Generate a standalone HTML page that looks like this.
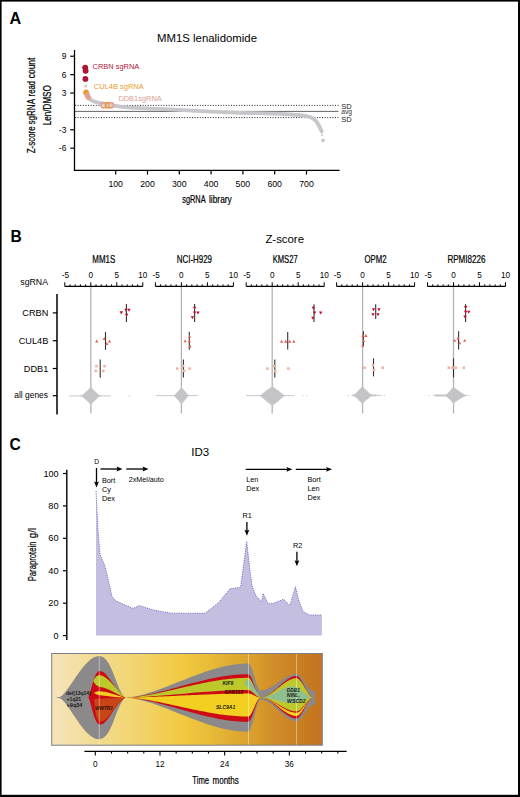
<!DOCTYPE html>
<html><head><meta charset="utf-8"><style>
html,body{margin:0;padding:0;background:#fff;}
svg{display:block;}
text{font-family:"Liberation Sans",sans-serif;}
</style></head><body>
<svg width="520" height="797" viewBox="0 0 520 797">
<rect x="0" y="0" width="520" height="797" fill="#fff"/>
<text x="9.60" y="23.70" font-size="16.2" text-anchor="start" fill="#000" font-weight="bold"  style="">A</text>
<text x="157.00" y="41.80" font-size="11" text-anchor="start" fill="#000" font-weight="normal" textLength="100.00" lengthAdjust="spacingAndGlyphs"  style="">MM1S lenalidomide</text>
<line x1="74.50" y1="50.00" x2="74.50" y2="170.60" stroke="#000" stroke-width="1.3" />
<line x1="73.85" y1="170.30" x2="339.60" y2="170.30" stroke="#000" stroke-width="1.3" />
<line x1="70.20" y1="56.23" x2="74.50" y2="56.23" stroke="#000" stroke-width="1.2" />
<text x="66.30" y="59.13" font-size="8.4" text-anchor="end" fill="#000" font-weight="normal"  style="">9</text>
<line x1="70.20" y1="74.62" x2="74.50" y2="74.62" stroke="#000" stroke-width="1.2" />
<text x="66.30" y="77.52" font-size="8.4" text-anchor="end" fill="#000" font-weight="normal"  style="">6</text>
<line x1="70.20" y1="93.01" x2="74.50" y2="93.01" stroke="#000" stroke-width="1.2" />
<text x="66.30" y="95.91" font-size="8.4" text-anchor="end" fill="#000" font-weight="normal"  style="">3</text>
<line x1="70.20" y1="129.79" x2="74.50" y2="129.79" stroke="#000" stroke-width="1.2" />
<text x="66.30" y="132.69" font-size="8.4" text-anchor="end" fill="#000" font-weight="normal"  style="">-3</text>
<line x1="70.20" y1="148.18" x2="74.50" y2="148.18" stroke="#000" stroke-width="1.2" />
<text x="66.30" y="151.08" font-size="8.4" text-anchor="end" fill="#000" font-weight="normal"  style="">-6</text>
<line x1="115.70" y1="170.30" x2="115.70" y2="174.60" stroke="#000" stroke-width="1.2" />
<text x="115.70" y="186.90" font-size="8.4" text-anchor="middle" fill="#000" font-weight="normal" textLength="14.60" lengthAdjust="spacingAndGlyphs"  style="">100</text>
<line x1="147.50" y1="170.30" x2="147.50" y2="174.60" stroke="#000" stroke-width="1.2" />
<text x="147.50" y="186.90" font-size="8.4" text-anchor="middle" fill="#000" font-weight="normal" textLength="14.60" lengthAdjust="spacingAndGlyphs"  style="">200</text>
<line x1="179.30" y1="170.30" x2="179.30" y2="174.60" stroke="#000" stroke-width="1.2" />
<text x="179.30" y="186.90" font-size="8.4" text-anchor="middle" fill="#000" font-weight="normal" textLength="14.60" lengthAdjust="spacingAndGlyphs"  style="">300</text>
<line x1="211.10" y1="170.30" x2="211.10" y2="174.60" stroke="#000" stroke-width="1.2" />
<text x="211.10" y="186.90" font-size="8.4" text-anchor="middle" fill="#000" font-weight="normal" textLength="14.60" lengthAdjust="spacingAndGlyphs"  style="">400</text>
<line x1="242.90" y1="170.30" x2="242.90" y2="174.60" stroke="#000" stroke-width="1.2" />
<text x="242.90" y="186.90" font-size="8.4" text-anchor="middle" fill="#000" font-weight="normal" textLength="14.60" lengthAdjust="spacingAndGlyphs"  style="">500</text>
<line x1="274.70" y1="170.30" x2="274.70" y2="174.60" stroke="#000" stroke-width="1.2" />
<text x="274.70" y="186.90" font-size="8.4" text-anchor="middle" fill="#000" font-weight="normal" textLength="14.60" lengthAdjust="spacingAndGlyphs"  style="">600</text>
<line x1="306.50" y1="170.30" x2="306.50" y2="174.60" stroke="#000" stroke-width="1.2" />
<text x="306.50" y="186.90" font-size="8.4" text-anchor="middle" fill="#000" font-weight="normal" textLength="14.60" lengthAdjust="spacingAndGlyphs"  style="">700</text>
<line x1="75.00" y1="105.40" x2="338.50" y2="105.40" stroke="#222" stroke-width="1" stroke-dasharray="1 1.6"/>
<line x1="75.00" y1="117.60" x2="338.50" y2="117.60" stroke="#222" stroke-width="1" stroke-dasharray="1 1.6"/>
<line x1="75.00" y1="111.40" x2="338.50" y2="111.40" stroke="#555" stroke-width="0.9" />
<path d="M86.0,93.5 L88.0,97.2 L91.0,100.0 L94.4,101.6 L99.2,102.8 L110.0,105.0 L120.0,106.7 L130.0,107.7 L150.0,108.6 L170.0,109.4 L200.0,111.2 L240.0,112.8 L280.0,113.8 L290.0,114.4 L300.0,115.2 L306.0,116.0 L311.0,117.3 L314.0,119.0 L317.0,122.3 L319.0,125.8 L320.8,129.3 L321.7,131.4" fill="none" stroke="#c6c6cb" stroke-width="3.8" stroke-linecap="round" stroke-linejoin="round"/>
<circle cx="323" cy="140.3" r="1.9" fill="#c9c9ce"/>
<circle cx="322" cy="135" r="1.2" fill="#d4d4d8"/>
<circle cx="85.2" cy="67.6" r="2.95" fill="#ae1538"/>
<circle cx="85.6" cy="70.8" r="2.95" fill="#ae1538"/>
<circle cx="85.4" cy="78.9" r="2.95" fill="#ae1538"/>
<circle cx="85.7" cy="86" r="1.6" fill="#cdcdd1"/>
<circle cx="86.1" cy="92.4" r="2.9" fill="#e89c2c"/>
<circle cx="87.4" cy="95.4" r="2.8" fill="#e2a092"/>
<circle cx="88.5" cy="97.6" r="2.6" fill="#e2a092"/>
<circle cx="103.7" cy="105.2" r="2.6" fill="#fff" fill-opacity="0.35" stroke="#e2a092" stroke-width="1.7"/>
<circle cx="108.0" cy="105.2" r="2.6" fill="#fff" fill-opacity="0.35" stroke="#e89c2c" stroke-width="1.7"/>
<circle cx="110.9" cy="105.2" r="2.6" fill="#fff" fill-opacity="0.35" stroke="#e2a092" stroke-width="1.7"/>
<text x="92.50" y="69.20" font-size="7.4" text-anchor="start" fill="#ae1538" font-weight="normal" textLength="46.80" lengthAdjust="spacingAndGlyphs"  style="">CRBN sgRNA</text>
<text x="93.80" y="89.20" font-size="7.4" text-anchor="start" fill="#e89a2a" font-weight="normal" textLength="49.90" lengthAdjust="spacingAndGlyphs"  style="">CUL4B sgRNA</text>
<text x="118.40" y="101.20" font-size="7.4" text-anchor="start" fill="#dc9c94" font-weight="normal" textLength="43.30" lengthAdjust="spacingAndGlyphs"  style="">DDB1sgRNA</text>
<text x="341.30" y="108.70" font-size="8.0" text-anchor="start" fill="#1a1a1a" font-weight="normal" textLength="10.40" lengthAdjust="spacingAndGlyphs"  style="">SD</text>
<text x="341.30" y="113.60" font-size="6.8" text-anchor="start" fill="#333" font-weight="normal" textLength="10.80" lengthAdjust="spacingAndGlyphs"  style="">avg</text>
<text x="341.30" y="121.70" font-size="8.0" text-anchor="start" fill="#1a1a1a" font-weight="normal" textLength="10.40" lengthAdjust="spacingAndGlyphs"  style="">SD</text>
<text x="182.20" y="203.20" font-size="10.3" text-anchor="start" fill="#000" font-weight="normal" textLength="23.40" lengthAdjust="spacingAndGlyphs"  stroke="#000" stroke-width="0.22" style="">sgRNA</text>
<text x="209.00" y="203.20" font-size="10.3" text-anchor="start" fill="#000" font-weight="normal" textLength="22.80" lengthAdjust="spacingAndGlyphs"  stroke="#000" stroke-width="0.22" style="">library</text>
<text transform="translate(35.30,153.30) rotate(-90)" x="0" y="0" font-size="11.4" fill="#000" font-weight="normal" textLength="27.00" lengthAdjust="spacingAndGlyphs" stroke="#000" stroke-width="0.22">Z-score</text>
<text transform="translate(35.30,124.50) rotate(-90)" x="0" y="0" font-size="11.4" fill="#000" font-weight="normal" textLength="25.60" lengthAdjust="spacingAndGlyphs" stroke="#000" stroke-width="0.22">sgRNA</text>
<text transform="translate(35.30,96.40) rotate(-90)" x="0" y="0" font-size="11.4" fill="#000" font-weight="normal" textLength="15.40" lengthAdjust="spacingAndGlyphs" stroke="#000" stroke-width="0.22">read</text>
<text transform="translate(35.30,78.20) rotate(-90)" x="0" y="0" font-size="11.4" fill="#000" font-weight="normal" textLength="20.60" lengthAdjust="spacingAndGlyphs" stroke="#000" stroke-width="0.22">count</text>
<text transform="translate(50.60,105.20) rotate(-90)" x="0" y="0" font-size="11.4" text-anchor="middle" fill="#000" font-weight="normal" textLength="40.00" lengthAdjust="spacingAndGlyphs" stroke="#000" stroke-width="0.22">Len/DMSO</text>
<text x="10.40" y="241.60" font-size="15.6" text-anchor="start" fill="#000" font-weight="bold"  style="">B</text>
<text x="265.40" y="242.80" font-size="11.6" text-anchor="start" fill="#000" font-weight="normal" textLength="38.60" lengthAdjust="spacingAndGlyphs"  style="">Z-score</text>
<text x="20.30" y="284.70" font-size="8.8" text-anchor="start" fill="#000" font-weight="normal" textLength="27.70" lengthAdjust="spacingAndGlyphs"  style="">sgRNA</text>
<line x1="57.00" y1="294.00" x2="57.00" y2="414.60" stroke="#000" stroke-width="1.5" />
<line x1="52.80" y1="312.90" x2="57.00" y2="312.90" stroke="#000" stroke-width="1.2" />
<text x="48.30" y="316.20" font-size="9.2" text-anchor="end" fill="#000" font-weight="normal"  style="">CRBN</text>
<line x1="52.80" y1="340.70" x2="57.00" y2="340.70" stroke="#000" stroke-width="1.2" />
<text x="48.30" y="344.00" font-size="9.2" text-anchor="end" fill="#000" font-weight="normal"  style="">CUL4B</text>
<line x1="52.80" y1="368.50" x2="57.00" y2="368.50" stroke="#000" stroke-width="1.2" />
<text x="48.30" y="371.80" font-size="9.2" text-anchor="end" fill="#000" font-weight="normal"  style="">DDB1</text>
<line x1="52.80" y1="395.70" x2="57.00" y2="395.70" stroke="#000" stroke-width="1.2" />
<text x="48.00" y="398.30" font-size="8.5" text-anchor="end" fill="#000" font-weight="normal" textLength="33.70" lengthAdjust="spacingAndGlyphs"  style="">all genes</text>
<line x1="64.80" y1="286.40" x2="142.80" y2="286.40" stroke="#000" stroke-width="1.3" />
<line x1="64.80" y1="282.30" x2="64.80" y2="286.40" stroke="#000" stroke-width="1.0" />
<line x1="70.00" y1="284.40" x2="70.00" y2="286.40" stroke="#000" stroke-width="1.0" />
<line x1="75.20" y1="284.40" x2="75.20" y2="286.40" stroke="#000" stroke-width="1.0" />
<line x1="80.40" y1="284.40" x2="80.40" y2="286.40" stroke="#000" stroke-width="1.0" />
<line x1="85.60" y1="284.40" x2="85.60" y2="286.40" stroke="#000" stroke-width="1.0" />
<line x1="90.80" y1="282.30" x2="90.80" y2="286.40" stroke="#000" stroke-width="1.0" />
<line x1="96.00" y1="284.40" x2="96.00" y2="286.40" stroke="#000" stroke-width="1.0" />
<line x1="101.20" y1="284.40" x2="101.20" y2="286.40" stroke="#000" stroke-width="1.0" />
<line x1="106.40" y1="284.40" x2="106.40" y2="286.40" stroke="#000" stroke-width="1.0" />
<line x1="111.60" y1="284.40" x2="111.60" y2="286.40" stroke="#000" stroke-width="1.0" />
<line x1="116.80" y1="282.30" x2="116.80" y2="286.40" stroke="#000" stroke-width="1.0" />
<line x1="122.00" y1="284.40" x2="122.00" y2="286.40" stroke="#000" stroke-width="1.0" />
<line x1="127.20" y1="284.40" x2="127.20" y2="286.40" stroke="#000" stroke-width="1.0" />
<line x1="132.40" y1="284.40" x2="132.40" y2="286.40" stroke="#000" stroke-width="1.0" />
<line x1="137.60" y1="284.40" x2="137.60" y2="286.40" stroke="#000" stroke-width="1.0" />
<line x1="142.80" y1="282.30" x2="142.80" y2="286.40" stroke="#000" stroke-width="1.0" />
<text x="65.50" y="278.20" font-size="8.2" text-anchor="middle" fill="#000" font-weight="normal"  style="">-5</text>
<text x="90.80" y="278.20" font-size="8.2" text-anchor="middle" fill="#000" font-weight="normal"  style="">0</text>
<text x="116.80" y="278.20" font-size="8.2" text-anchor="middle" fill="#000" font-weight="normal"  style="">5</text>
<text x="142.80" y="278.20" font-size="8.2" text-anchor="middle" fill="#000" font-weight="normal"  style="">10</text>
<text x="103.80" y="263.00" font-size="10.6" text-anchor="middle" fill="#000" font-weight="normal" textLength="23.00" lengthAdjust="spacingAndGlyphs"  stroke="#000" stroke-width="0.22" style="">MM1S</text>
<line x1="90.80" y1="287.00" x2="90.80" y2="413.50" stroke="#b4b4b8" stroke-width="1.3" />
<line x1="155.40" y1="286.40" x2="233.40" y2="286.40" stroke="#000" stroke-width="1.3" />
<line x1="155.40" y1="282.30" x2="155.40" y2="286.40" stroke="#000" stroke-width="1.0" />
<line x1="160.60" y1="284.40" x2="160.60" y2="286.40" stroke="#000" stroke-width="1.0" />
<line x1="165.80" y1="284.40" x2="165.80" y2="286.40" stroke="#000" stroke-width="1.0" />
<line x1="171.00" y1="284.40" x2="171.00" y2="286.40" stroke="#000" stroke-width="1.0" />
<line x1="176.20" y1="284.40" x2="176.20" y2="286.40" stroke="#000" stroke-width="1.0" />
<line x1="181.40" y1="282.30" x2="181.40" y2="286.40" stroke="#000" stroke-width="1.0" />
<line x1="186.60" y1="284.40" x2="186.60" y2="286.40" stroke="#000" stroke-width="1.0" />
<line x1="191.80" y1="284.40" x2="191.80" y2="286.40" stroke="#000" stroke-width="1.0" />
<line x1="197.00" y1="284.40" x2="197.00" y2="286.40" stroke="#000" stroke-width="1.0" />
<line x1="202.20" y1="284.40" x2="202.20" y2="286.40" stroke="#000" stroke-width="1.0" />
<line x1="207.40" y1="282.30" x2="207.40" y2="286.40" stroke="#000" stroke-width="1.0" />
<line x1="212.60" y1="284.40" x2="212.60" y2="286.40" stroke="#000" stroke-width="1.0" />
<line x1="217.80" y1="284.40" x2="217.80" y2="286.40" stroke="#000" stroke-width="1.0" />
<line x1="223.00" y1="284.40" x2="223.00" y2="286.40" stroke="#000" stroke-width="1.0" />
<line x1="228.20" y1="284.40" x2="228.20" y2="286.40" stroke="#000" stroke-width="1.0" />
<line x1="233.40" y1="282.30" x2="233.40" y2="286.40" stroke="#000" stroke-width="1.0" />
<text x="156.10" y="278.20" font-size="8.2" text-anchor="middle" fill="#000" font-weight="normal"  style="">-5</text>
<text x="181.40" y="278.20" font-size="8.2" text-anchor="middle" fill="#000" font-weight="normal"  style="">0</text>
<text x="207.40" y="278.20" font-size="8.2" text-anchor="middle" fill="#000" font-weight="normal"  style="">5</text>
<text x="233.40" y="278.20" font-size="8.2" text-anchor="middle" fill="#000" font-weight="normal"  style="">10</text>
<text x="194.40" y="263.00" font-size="10.6" text-anchor="middle" fill="#000" font-weight="normal" textLength="35.20" lengthAdjust="spacingAndGlyphs"  stroke="#000" stroke-width="0.22" style="">NCI-H929</text>
<line x1="181.40" y1="287.00" x2="181.40" y2="413.50" stroke="#b4b4b8" stroke-width="1.3" />
<line x1="246.20" y1="286.40" x2="324.20" y2="286.40" stroke="#000" stroke-width="1.3" />
<line x1="246.20" y1="282.30" x2="246.20" y2="286.40" stroke="#000" stroke-width="1.0" />
<line x1="251.40" y1="284.40" x2="251.40" y2="286.40" stroke="#000" stroke-width="1.0" />
<line x1="256.60" y1="284.40" x2="256.60" y2="286.40" stroke="#000" stroke-width="1.0" />
<line x1="261.80" y1="284.40" x2="261.80" y2="286.40" stroke="#000" stroke-width="1.0" />
<line x1="267.00" y1="284.40" x2="267.00" y2="286.40" stroke="#000" stroke-width="1.0" />
<line x1="272.20" y1="282.30" x2="272.20" y2="286.40" stroke="#000" stroke-width="1.0" />
<line x1="277.40" y1="284.40" x2="277.40" y2="286.40" stroke="#000" stroke-width="1.0" />
<line x1="282.60" y1="284.40" x2="282.60" y2="286.40" stroke="#000" stroke-width="1.0" />
<line x1="287.80" y1="284.40" x2="287.80" y2="286.40" stroke="#000" stroke-width="1.0" />
<line x1="293.00" y1="284.40" x2="293.00" y2="286.40" stroke="#000" stroke-width="1.0" />
<line x1="298.20" y1="282.30" x2="298.20" y2="286.40" stroke="#000" stroke-width="1.0" />
<line x1="303.40" y1="284.40" x2="303.40" y2="286.40" stroke="#000" stroke-width="1.0" />
<line x1="308.60" y1="284.40" x2="308.60" y2="286.40" stroke="#000" stroke-width="1.0" />
<line x1="313.80" y1="284.40" x2="313.80" y2="286.40" stroke="#000" stroke-width="1.0" />
<line x1="319.00" y1="284.40" x2="319.00" y2="286.40" stroke="#000" stroke-width="1.0" />
<line x1="324.20" y1="282.30" x2="324.20" y2="286.40" stroke="#000" stroke-width="1.0" />
<text x="246.90" y="278.20" font-size="8.2" text-anchor="middle" fill="#000" font-weight="normal"  style="">-5</text>
<text x="272.20" y="278.20" font-size="8.2" text-anchor="middle" fill="#000" font-weight="normal"  style="">0</text>
<text x="298.20" y="278.20" font-size="8.2" text-anchor="middle" fill="#000" font-weight="normal"  style="">5</text>
<text x="324.20" y="278.20" font-size="8.2" text-anchor="middle" fill="#000" font-weight="normal"  style="">10</text>
<text x="285.20" y="263.00" font-size="10.6" text-anchor="middle" fill="#000" font-weight="normal" textLength="25.10" lengthAdjust="spacingAndGlyphs"  stroke="#000" stroke-width="0.22" style="">KMS27</text>
<line x1="272.20" y1="287.00" x2="272.20" y2="413.50" stroke="#b4b4b8" stroke-width="1.3" />
<line x1="336.60" y1="286.40" x2="414.60" y2="286.40" stroke="#000" stroke-width="1.3" />
<line x1="336.60" y1="282.30" x2="336.60" y2="286.40" stroke="#000" stroke-width="1.0" />
<line x1="341.80" y1="284.40" x2="341.80" y2="286.40" stroke="#000" stroke-width="1.0" />
<line x1="347.00" y1="284.40" x2="347.00" y2="286.40" stroke="#000" stroke-width="1.0" />
<line x1="352.20" y1="284.40" x2="352.20" y2="286.40" stroke="#000" stroke-width="1.0" />
<line x1="357.40" y1="284.40" x2="357.40" y2="286.40" stroke="#000" stroke-width="1.0" />
<line x1="362.60" y1="282.30" x2="362.60" y2="286.40" stroke="#000" stroke-width="1.0" />
<line x1="367.80" y1="284.40" x2="367.80" y2="286.40" stroke="#000" stroke-width="1.0" />
<line x1="373.00" y1="284.40" x2="373.00" y2="286.40" stroke="#000" stroke-width="1.0" />
<line x1="378.20" y1="284.40" x2="378.20" y2="286.40" stroke="#000" stroke-width="1.0" />
<line x1="383.40" y1="284.40" x2="383.40" y2="286.40" stroke="#000" stroke-width="1.0" />
<line x1="388.60" y1="282.30" x2="388.60" y2="286.40" stroke="#000" stroke-width="1.0" />
<line x1="393.80" y1="284.40" x2="393.80" y2="286.40" stroke="#000" stroke-width="1.0" />
<line x1="399.00" y1="284.40" x2="399.00" y2="286.40" stroke="#000" stroke-width="1.0" />
<line x1="404.20" y1="284.40" x2="404.20" y2="286.40" stroke="#000" stroke-width="1.0" />
<line x1="409.40" y1="284.40" x2="409.40" y2="286.40" stroke="#000" stroke-width="1.0" />
<line x1="414.60" y1="282.30" x2="414.60" y2="286.40" stroke="#000" stroke-width="1.0" />
<text x="337.30" y="278.20" font-size="8.2" text-anchor="middle" fill="#000" font-weight="normal"  style="">-5</text>
<text x="362.60" y="278.20" font-size="8.2" text-anchor="middle" fill="#000" font-weight="normal"  style="">0</text>
<text x="388.60" y="278.20" font-size="8.2" text-anchor="middle" fill="#000" font-weight="normal"  style="">5</text>
<text x="414.60" y="278.20" font-size="8.2" text-anchor="middle" fill="#000" font-weight="normal"  style="">10</text>
<text x="375.60" y="263.00" font-size="10.6" text-anchor="middle" fill="#000" font-weight="normal" textLength="22.10" lengthAdjust="spacingAndGlyphs"  stroke="#000" stroke-width="0.22" style="">OPM2</text>
<line x1="362.60" y1="287.00" x2="362.60" y2="413.50" stroke="#b4b4b8" stroke-width="1.3" />
<line x1="427.50" y1="286.40" x2="505.50" y2="286.40" stroke="#000" stroke-width="1.3" />
<line x1="427.50" y1="282.30" x2="427.50" y2="286.40" stroke="#000" stroke-width="1.0" />
<line x1="432.70" y1="284.40" x2="432.70" y2="286.40" stroke="#000" stroke-width="1.0" />
<line x1="437.90" y1="284.40" x2="437.90" y2="286.40" stroke="#000" stroke-width="1.0" />
<line x1="443.10" y1="284.40" x2="443.10" y2="286.40" stroke="#000" stroke-width="1.0" />
<line x1="448.30" y1="284.40" x2="448.30" y2="286.40" stroke="#000" stroke-width="1.0" />
<line x1="453.50" y1="282.30" x2="453.50" y2="286.40" stroke="#000" stroke-width="1.0" />
<line x1="458.70" y1="284.40" x2="458.70" y2="286.40" stroke="#000" stroke-width="1.0" />
<line x1="463.90" y1="284.40" x2="463.90" y2="286.40" stroke="#000" stroke-width="1.0" />
<line x1="469.10" y1="284.40" x2="469.10" y2="286.40" stroke="#000" stroke-width="1.0" />
<line x1="474.30" y1="284.40" x2="474.30" y2="286.40" stroke="#000" stroke-width="1.0" />
<line x1="479.50" y1="282.30" x2="479.50" y2="286.40" stroke="#000" stroke-width="1.0" />
<line x1="484.70" y1="284.40" x2="484.70" y2="286.40" stroke="#000" stroke-width="1.0" />
<line x1="489.90" y1="284.40" x2="489.90" y2="286.40" stroke="#000" stroke-width="1.0" />
<line x1="495.10" y1="284.40" x2="495.10" y2="286.40" stroke="#000" stroke-width="1.0" />
<line x1="500.30" y1="284.40" x2="500.30" y2="286.40" stroke="#000" stroke-width="1.0" />
<line x1="505.50" y1="282.30" x2="505.50" y2="286.40" stroke="#000" stroke-width="1.0" />
<text x="428.20" y="278.20" font-size="8.2" text-anchor="middle" fill="#000" font-weight="normal"  style="">-5</text>
<text x="453.50" y="278.20" font-size="8.2" text-anchor="middle" fill="#000" font-weight="normal"  style="">0</text>
<text x="479.50" y="278.20" font-size="8.2" text-anchor="middle" fill="#000" font-weight="normal"  style="">5</text>
<text x="505.50" y="278.20" font-size="8.2" text-anchor="middle" fill="#000" font-weight="normal"  style="">10</text>
<text x="466.50" y="263.00" font-size="10.6" text-anchor="middle" fill="#000" font-weight="normal" textLength="38.20" lengthAdjust="spacingAndGlyphs"  stroke="#000" stroke-width="0.22" style="">RPMI8226</text>
<line x1="453.50" y1="287.00" x2="453.50" y2="413.50" stroke="#b4b4b8" stroke-width="1.3" />
<line x1="126.40" y1="304.00" x2="126.40" y2="322.00" stroke="#333" stroke-width="1.1" />
<path d="M119.60,311.34 L123.00,311.34 L121.30,314.40 Z" fill="#c0102e"/>
<path d="M124.30,308.74 L127.70,308.74 L126.00,311.80 Z" fill="#c0102e"/>
<path d="M127.30,308.74 L130.70,308.74 L129.00,311.80 Z" fill="#c0102e"/>
<path d="M125.00,313.64 L128.40,313.64 L126.70,316.70 Z" fill="#c0102e"/>
<line x1="105.50" y1="331.90" x2="105.50" y2="349.80" stroke="#333" stroke-width="1.1" />
<path d="M95.10,342.48 L98.30,342.48 L96.70,339.60 Z" fill="#e06050"/>
<path d="M102.60,339.98 L105.80,339.98 L104.20,337.10 Z" fill="#e06050"/>
<path d="M107.90,342.48 L111.10,342.48 L109.50,339.60 Z" fill="#e06050"/>
<path d="M105.20,344.98 L108.40,344.98 L106.80,342.10 Z" fill="#e06050"/>
<line x1="100.20" y1="359.60" x2="100.20" y2="377.70" stroke="#333" stroke-width="1.1" />
<rect x="95.20" y="364.90" width="2.60" height="2.60" fill="#f2b4a2"/>
<rect x="103.20" y="364.90" width="2.60" height="2.60" fill="#f2b4a2"/>
<rect x="94.50" y="369.60" width="2.60" height="2.60" fill="#f2b4a2"/>
<rect x="102.00" y="369.60" width="2.60" height="2.60" fill="#f2b4a2"/>
<line x1="194.60" y1="304.00" x2="194.60" y2="322.10" stroke="#333" stroke-width="1.1" />
<path d="M192.90,306.64 L196.30,306.64 L194.60,309.70 Z" fill="#c0102e"/>
<path d="M192.90,311.44 L196.30,311.44 L194.60,314.50 Z" fill="#c0102e"/>
<path d="M196.30,311.44 L199.70,311.44 L198.00,314.50 Z" fill="#c0102e"/>
<path d="M190.70,316.24 L194.10,316.24 L192.40,319.30 Z" fill="#c0102e"/>
<line x1="189.30" y1="331.70" x2="189.30" y2="349.70" stroke="#333" stroke-width="1.1" />
<path d="M183.50,342.28 L186.70,342.28 L185.10,339.40 Z" fill="#e06050"/>
<path d="M188.00,337.78 L191.20,337.78 L189.60,334.90 Z" fill="#e06050"/>
<path d="M187.70,342.28 L190.90,342.28 L189.30,339.40 Z" fill="#e06050"/>
<path d="M188.40,347.38 L191.60,347.38 L190.00,344.50 Z" fill="#e06050"/>
<line x1="183.40" y1="359.60" x2="183.40" y2="377.60" stroke="#333" stroke-width="1.1" />
<rect x="175.90" y="367.30" width="2.60" height="2.60" fill="#f2b4a2"/>
<rect x="188.30" y="367.30" width="2.60" height="2.60" fill="#f2b4a2"/>
<rect x="181.80" y="364.60" width="2.60" height="2.60" fill="#f2b4a2"/>
<rect x="182.90" y="369.50" width="2.60" height="2.60" fill="#f2b4a2"/>
<line x1="314.00" y1="304.20" x2="314.00" y2="321.90" stroke="#333" stroke-width="1.1" />
<path d="M311.60,306.64 L315.00,306.64 L313.30,309.70 Z" fill="#c0102e"/>
<path d="M312.90,311.54 L316.30,311.54 L314.60,314.60 Z" fill="#c0102e"/>
<path d="M319.00,311.54 L322.40,311.54 L320.70,314.60 Z" fill="#c0102e"/>
<path d="M311.20,316.74 L314.60,316.74 L312.90,319.80 Z" fill="#c0102e"/>
<line x1="287.70" y1="332.00" x2="287.70" y2="349.50" stroke="#333" stroke-width="1.1" />
<path d="M280.00,342.68 L283.20,342.68 L281.60,339.80 Z" fill="#e06050"/>
<path d="M284.10,342.68 L287.30,342.68 L285.70,339.80 Z" fill="#e06050"/>
<path d="M288.10,342.68 L291.30,342.68 L289.70,339.80 Z" fill="#e06050"/>
<path d="M292.20,342.68 L295.40,342.68 L293.80,339.80 Z" fill="#e06050"/>
<line x1="274.80" y1="359.60" x2="274.80" y2="377.40" stroke="#333" stroke-width="1.1" />
<rect x="266.10" y="367.30" width="2.60" height="2.60" fill="#f2b4a2"/>
<rect x="287.10" y="367.30" width="2.60" height="2.60" fill="#f2b4a2"/>
<rect x="272.90" y="364.70" width="2.60" height="2.60" fill="#f2b4a2"/>
<rect x="273.90" y="369.70" width="2.60" height="2.60" fill="#f2b4a2"/>
<line x1="375.70" y1="304.20" x2="375.70" y2="319.00" stroke="#333" stroke-width="1.1" />
<path d="M371.80,308.14 L375.20,308.14 L373.50,311.20 Z" fill="#c0102e"/>
<path d="M377.20,308.14 L380.60,308.14 L378.90,311.20 Z" fill="#c0102e"/>
<path d="M371.30,313.14 L374.70,313.14 L373.00,316.20 Z" fill="#c0102e"/>
<path d="M376.30,313.14 L379.70,313.14 L378.00,316.20 Z" fill="#c0102e"/>
<line x1="363.40" y1="331.30" x2="363.40" y2="346.10" stroke="#333" stroke-width="1.1" />
<path d="M361.40,336.88 L364.60,336.88 L363.00,334.00 Z" fill="#e06050"/>
<path d="M364.30,336.88 L367.50,336.88 L365.90,334.00 Z" fill="#e06050"/>
<path d="M362.00,342.08 L365.20,342.08 L363.60,339.20 Z" fill="#e06050"/>
<path d="M361.20,346.78 L364.40,346.78 L362.80,343.90 Z" fill="#e06050"/>
<line x1="373.50" y1="358.30" x2="373.50" y2="376.40" stroke="#333" stroke-width="1.1" />
<rect x="363.20" y="366.40" width="2.60" height="2.60" fill="#f2b4a2"/>
<rect x="381.40" y="366.40" width="2.60" height="2.60" fill="#f2b4a2"/>
<rect x="371.60" y="364.00" width="2.60" height="2.60" fill="#f2b4a2"/>
<rect x="372.70" y="368.80" width="2.60" height="2.60" fill="#f2b4a2"/>
<line x1="465.60" y1="304.20" x2="465.60" y2="321.90" stroke="#333" stroke-width="1.1" />
<path d="M463.90,306.04 L467.30,306.04 L465.60,309.10 Z" fill="#c0102e"/>
<path d="M463.90,310.74 L467.30,310.74 L465.60,313.80 Z" fill="#c0102e"/>
<path d="M467.00,310.74 L470.40,310.74 L468.70,313.80 Z" fill="#c0102e"/>
<path d="M463.30,315.54 L466.70,315.54 L465.00,318.60 Z" fill="#c0102e"/>
<line x1="458.60" y1="331.30" x2="458.60" y2="349.50" stroke="#333" stroke-width="1.1" />
<path d="M453.00,341.78 L456.20,341.78 L454.60,338.90 Z" fill="#e06050"/>
<path d="M456.40,339.38 L459.60,339.38 L458.00,336.50 Z" fill="#e06050"/>
<path d="M458.10,344.28 L461.30,344.28 L459.70,341.40 Z" fill="#e06050"/>
<path d="M463.10,341.78 L466.30,341.78 L464.70,338.90 Z" fill="#e06050"/>
<line x1="453.50" y1="358.30" x2="453.50" y2="377.40" stroke="#333" stroke-width="1.1" />
<rect x="447.50" y="366.40" width="2.60" height="2.60" fill="#f2b4a2"/>
<rect x="451.30" y="366.40" width="2.60" height="2.60" fill="#f2b4a2"/>
<rect x="454.40" y="366.40" width="2.60" height="2.60" fill="#f2b4a2"/>
<rect x="462.50" y="366.40" width="2.60" height="2.60" fill="#f2b4a2"/>
<line x1="69.30" y1="395.90" x2="110.80" y2="395.90" stroke="#c9c9ce" stroke-width="1.0" />
<path d="M101.25,395.90 L99.90,395.63 L99.09,395.20 L98.60,394.77 L98.11,394.34 L97.62,393.91 L97.14,393.47 L96.67,393.04 L96.20,392.61 L95.73,392.18 L95.27,391.75 L94.82,391.32 L94.37,390.88 L93.93,390.45 L93.50,390.02 L93.08,389.59 L92.66,389.16 L92.27,388.73 L91.88,388.29 L91.52,387.86 L91.18,387.43 L90.90,387.00 L90.90,387.00 L90.61,387.43 L90.25,387.86 L89.86,388.29 L89.46,388.73 L89.04,389.16 L88.60,389.59 L88.16,390.02 L87.70,390.45 L87.24,390.88 L86.77,391.32 L86.29,391.75 L85.80,392.18 L85.31,392.61 L84.81,393.04 L84.31,393.47 L83.80,393.91 L83.29,394.34 L82.77,394.77 L82.25,395.20 L81.40,395.63 L79.98,395.90 L79.98,395.90 L81.40,396.17 L82.25,396.60 L82.77,397.03 L83.29,397.46 L83.80,397.89 L84.31,398.33 L84.81,398.76 L85.31,399.19 L85.80,399.62 L86.29,400.05 L86.77,400.48 L87.24,400.92 L87.70,401.35 L88.16,401.78 L88.60,402.21 L89.04,402.64 L89.46,403.07 L89.86,403.51 L90.25,403.94 L90.61,404.37 L90.90,404.80 L90.90,404.80 L91.18,404.37 L91.52,403.94 L91.88,403.51 L92.27,403.07 L92.66,402.64 L93.08,402.21 L93.50,401.78 L93.93,401.35 L94.37,400.92 L94.82,400.48 L95.27,400.05 L95.73,399.62 L96.20,399.19 L96.67,398.76 L97.14,398.33 L97.62,397.89 L98.11,397.46 L98.60,397.03 L99.09,396.60 L99.90,396.17 L101.25,395.90 Z" fill="#c3c3c8" stroke="#c3c3c8" stroke-width="0.4" stroke-linejoin="round"/>
<circle cx="129" cy="395.9" r="0.6" fill="#c3c3c8"/>
<line x1="156.00" y1="395.60" x2="197.80" y2="395.60" stroke="#c9c9ce" stroke-width="1.0" />
<path d="M189.65,395.60 L188.60,395.35 L188.02,394.95 L187.67,394.55 L187.32,394.14 L186.96,393.74 L186.61,393.34 L186.26,392.94 L185.91,392.53 L185.57,392.13 L185.22,391.73 L184.87,391.33 L184.53,390.92 L184.19,390.52 L183.85,390.12 L183.52,389.72 L183.18,389.31 L182.85,388.91 L182.52,388.51 L182.20,388.11 L181.89,387.70 L181.60,387.30 L181.60,387.30 L181.29,387.70 L180.95,388.11 L180.61,388.51 L180.26,388.91 L179.91,389.31 L179.55,389.72 L179.19,390.12 L178.82,390.52 L178.46,390.92 L178.09,391.33 L177.72,391.73 L177.35,392.13 L176.98,392.53 L176.61,392.94 L176.23,393.34 L175.85,393.74 L175.48,394.14 L175.10,394.55 L174.72,394.95 L174.10,395.35 L172.97,395.60 L172.97,395.60 L174.10,395.86 L174.72,396.28 L175.10,396.69 L175.48,397.11 L175.85,397.53 L176.23,397.94 L176.61,398.36 L176.98,398.78 L177.35,399.19 L177.72,399.61 L178.09,400.03 L178.46,400.45 L178.82,400.86 L179.19,401.28 L179.55,401.70 L179.91,402.11 L180.26,402.53 L180.61,402.95 L180.95,403.37 L181.29,403.78 L181.60,404.20 L181.60,404.20 L181.89,403.78 L182.20,403.37 L182.52,402.95 L182.85,402.53 L183.18,402.11 L183.52,401.70 L183.85,401.28 L184.19,400.86 L184.53,400.45 L184.87,400.03 L185.22,399.61 L185.57,399.19 L185.91,398.78 L186.26,398.36 L186.61,397.94 L186.96,397.53 L187.32,397.11 L187.67,396.69 L188.02,396.28 L188.60,395.86 L189.65,395.60 Z" fill="#c3c3c8" stroke="#c3c3c8" stroke-width="0.4" stroke-linejoin="round"/>
<line x1="246.00" y1="395.60" x2="294.50" y2="395.60" stroke="#c9c9ce" stroke-width="1.0" />
<path d="M286.10,395.60 L284.30,395.33 L283.45,394.89 L282.92,394.46 L282.39,394.02 L281.85,393.58 L281.31,393.15 L280.77,392.71 L280.22,392.27 L279.67,391.84 L279.12,391.40 L278.56,390.97 L277.99,390.53 L277.42,390.09 L276.84,389.66 L276.25,389.22 L275.65,388.78 L275.04,388.35 L274.42,387.91 L273.77,387.47 L273.09,387.04 L272.30,386.60 L272.30,386.60 L271.51,387.04 L270.83,387.47 L270.18,387.91 L269.56,388.35 L268.95,388.78 L268.35,389.22 L267.76,389.66 L267.18,390.09 L266.61,390.53 L266.04,390.97 L265.48,391.40 L264.93,391.84 L264.38,392.27 L263.83,392.71 L263.29,393.15 L262.75,393.58 L262.21,394.02 L261.68,394.46 L261.15,394.89 L260.30,395.33 L258.50,395.60 L258.50,395.60 L260.30,395.90 L261.15,396.38 L261.68,396.86 L262.21,397.34 L262.75,397.82 L263.29,398.30 L263.83,398.78 L264.38,399.26 L264.93,399.74 L265.48,400.22 L266.04,400.70 L266.61,401.18 L267.18,401.66 L267.76,402.14 L268.35,402.62 L268.95,403.10 L269.56,403.58 L270.18,404.06 L270.83,404.54 L271.51,405.02 L272.30,405.50 L272.30,405.50 L273.09,405.02 L273.77,404.54 L274.42,404.06 L275.04,403.58 L275.65,403.10 L276.25,402.62 L276.84,402.14 L277.42,401.66 L277.99,401.18 L278.56,400.70 L279.12,400.22 L279.67,399.74 L280.22,399.26 L280.77,398.78 L281.31,398.30 L281.85,397.82 L282.39,397.34 L282.92,396.86 L283.45,396.38 L284.30,395.90 L286.10,395.60 Z" fill="#c3c3c8" stroke="#c3c3c8" stroke-width="0.4" stroke-linejoin="round"/>
<circle cx="302.6" cy="395.6" r="0.6" fill="#c3c3c8"/>
<circle cx="306.6" cy="395.6" r="0.6" fill="#c3c3c8"/>
<line x1="351.40" y1="395.40" x2="381.40" y2="395.40" stroke="#c9c9ce" stroke-width="1.0" />
<line x1="353.00" y1="395.40" x2="376.00" y2="395.40" stroke="#c3c3c8" stroke-width="1.8" />
<path d="M373.23,395.40 L371.80,395.12 L370.98,394.68 L370.48,394.23 L369.98,393.79 L369.49,393.34 L368.99,392.89 L368.51,392.45 L368.02,392.00 L367.54,391.55 L367.06,391.11 L366.59,390.66 L366.12,390.22 L365.65,389.77 L365.19,389.32 L364.74,388.88 L364.30,388.43 L363.86,387.98 L363.44,387.54 L363.03,387.09 L362.64,386.65 L362.30,386.20 L362.30,386.20 L362.00,386.65 L361.65,387.09 L361.28,387.54 L360.90,387.98 L360.51,388.43 L360.11,388.88 L359.71,389.32 L359.30,389.77 L358.88,390.22 L358.47,390.66 L358.04,391.11 L357.61,391.55 L357.18,392.00 L356.75,392.45 L356.31,392.89 L355.87,393.34 L355.43,393.79 L354.98,394.23 L354.53,394.68 L353.80,395.12 L352.53,395.40 L352.53,395.40 L353.80,395.65 L354.53,396.07 L354.98,396.48 L355.43,396.89 L355.87,397.30 L356.31,397.72 L356.75,398.13 L357.18,398.54 L357.61,398.95 L358.04,399.37 L358.47,399.78 L358.88,400.19 L359.30,400.60 L359.71,401.01 L360.11,401.43 L360.51,401.84 L360.90,402.25 L361.28,402.66 L361.65,403.08 L362.00,403.49 L362.30,403.90 L362.30,403.90 L362.64,403.49 L363.03,403.08 L363.44,402.66 L363.86,402.25 L364.30,401.84 L364.74,401.43 L365.19,401.01 L365.65,400.60 L366.12,400.19 L366.59,399.78 L367.06,399.37 L367.54,398.95 L368.02,398.54 L368.51,398.13 L368.99,397.72 L369.49,397.30 L369.98,396.89 L370.48,396.48 L370.98,396.07 L371.80,395.65 L373.23,395.40 Z" fill="#c3c3c8" stroke="#c3c3c8" stroke-width="0.4" stroke-linejoin="round"/>
<circle cx="348" cy="395.4" r="0.6" fill="#c3c3c8"/>
<circle cx="384.3" cy="395.4" r="0.6" fill="#c3c3c8"/>
<line x1="433.20" y1="395.50" x2="466.00" y2="395.50" stroke="#c9c9ce" stroke-width="1.0" />
<line x1="435.00" y1="395.50" x2="448.00" y2="395.50" stroke="#c3c3c8" stroke-width="2.0" />
<path d="M467.77,395.50 L465.90,395.23 L464.69,394.79 L463.95,394.34 L463.22,393.90 L462.50,393.46 L461.80,393.02 L461.10,392.58 L460.42,392.14 L459.75,391.70 L459.10,391.25 L458.46,390.81 L457.83,390.37 L457.23,389.93 L456.64,389.49 L456.07,389.05 L455.53,388.61 L455.01,388.17 L454.52,387.72 L454.08,387.28 L453.68,386.84 L453.40,386.40 L453.40,386.40 L453.22,386.84 L452.97,387.28 L452.68,387.72 L452.37,388.17 L452.04,388.61 L451.69,389.05 L451.33,389.49 L450.95,389.93 L450.56,390.37 L450.16,390.81 L449.75,391.25 L449.33,391.70 L448.91,392.14 L448.47,392.58 L448.02,393.02 L447.57,393.46 L447.11,393.90 L446.65,394.34 L446.18,394.79 L445.40,395.23 L444.20,395.50 L444.20,395.50 L445.40,395.75 L446.18,396.15 L446.65,396.55 L447.11,396.96 L447.57,397.36 L448.02,397.76 L448.47,398.16 L448.91,398.57 L449.33,398.97 L449.75,399.37 L450.16,399.77 L450.56,400.18 L450.95,400.58 L451.33,400.98 L451.69,401.38 L452.04,401.79 L452.37,402.19 L452.68,402.59 L452.97,402.99 L453.22,403.40 L453.40,403.80 L453.40,403.80 L453.68,403.40 L454.08,402.99 L454.52,402.59 L455.01,402.19 L455.53,401.79 L456.07,401.38 L456.64,400.98 L457.23,400.58 L457.83,400.18 L458.46,399.77 L459.10,399.37 L459.75,398.97 L460.42,398.57 L461.10,398.16 L461.80,397.76 L462.50,397.36 L463.22,396.96 L463.95,396.55 L464.69,396.15 L465.90,395.75 L467.77,395.50 Z" fill="#c3c3c8" stroke="#c3c3c8" stroke-width="0.4" stroke-linejoin="round"/>
<circle cx="428.8" cy="395.5" r="0.6" fill="#c3c3c8"/>
<circle cx="469.4" cy="395.5" r="0.6" fill="#c3c3c8"/>
<text x="9.60" y="450.20" font-size="15.6" text-anchor="start" fill="#000" font-weight="bold"  style="">C</text>
<text x="191.20" y="455.90" font-size="11.5" text-anchor="start" fill="#000" font-weight="normal" textLength="17.90" lengthAdjust="spacingAndGlyphs"  style="">ID3</text>
<line x1="66.80" y1="469.70" x2="66.80" y2="640.00" stroke="#000" stroke-width="1.4" />
<line x1="63.00" y1="635.60" x2="66.80" y2="635.60" stroke="#000" stroke-width="1.2" />
<text x="58.60" y="638.60" font-size="8.4" text-anchor="end" fill="#000" font-weight="normal" textLength="5.00" lengthAdjust="spacingAndGlyphs"  style="">0</text>
<line x1="63.00" y1="603.18" x2="66.80" y2="603.18" stroke="#000" stroke-width="1.2" />
<text x="58.60" y="606.18" font-size="8.4" text-anchor="end" fill="#000" font-weight="normal" textLength="10.30" lengthAdjust="spacingAndGlyphs"  style="">20</text>
<line x1="63.00" y1="570.76" x2="66.80" y2="570.76" stroke="#000" stroke-width="1.2" />
<text x="58.60" y="573.76" font-size="8.4" text-anchor="end" fill="#000" font-weight="normal" textLength="10.30" lengthAdjust="spacingAndGlyphs"  style="">40</text>
<line x1="63.00" y1="538.34" x2="66.80" y2="538.34" stroke="#000" stroke-width="1.2" />
<text x="58.60" y="541.34" font-size="8.4" text-anchor="end" fill="#000" font-weight="normal" textLength="10.30" lengthAdjust="spacingAndGlyphs"  style="">60</text>
<line x1="63.00" y1="505.92" x2="66.80" y2="505.92" stroke="#000" stroke-width="1.2" />
<text x="58.60" y="508.92" font-size="8.4" text-anchor="end" fill="#000" font-weight="normal" textLength="10.30" lengthAdjust="spacingAndGlyphs"  style="">80</text>
<line x1="63.00" y1="473.50" x2="66.80" y2="473.50" stroke="#000" stroke-width="1.2" />
<text x="58.60" y="476.50" font-size="8.4" text-anchor="end" fill="#000" font-weight="normal" textLength="15.20" lengthAdjust="spacingAndGlyphs"  style="">100</text>
<text transform="translate(35.70,581.30) rotate(-90)" x="0" y="0" font-size="11.6" fill="#000" font-weight="normal" textLength="39.80" lengthAdjust="spacingAndGlyphs" stroke="#000" stroke-width="0.22">Paraprotein</text>
<text transform="translate(35.70,538.20) rotate(-90)" x="0" y="0" font-size="11.6" fill="#000" font-weight="normal" textLength="10.30" lengthAdjust="spacingAndGlyphs" stroke="#000" stroke-width="0.22">g/l</text>
<path d="M96,635.6 L96,491 L98,530 L100,554.3 L105.1,566.3 L112.1,596.5 L115.1,600.5 L133.2,608.5 L139.2,605.5 L153.3,610.1 L171.3,613.2 L205,613.3 L218.5,602.7 L230,588.8 L240.6,587.3 L246.7,541.5 L250,571 L252.1,586 L256,596 L261.7,601.5 L263.1,593.5 L268.5,604 L274.2,603 L283.5,599.2 L290,605.4 L295.4,586.7 L299,601 L303.1,611.7 L309.8,615 L321.9,615 L321.9,635.6 Z" fill="#c4bfe0"/>
<path d="M96,491 L98,530 L100,554.3 L105.1,566.3 L112.1,596.5 L115.1,600.5 L133.2,608.5 L139.2,605.5 L153.3,610.1 L171.3,613.2 L205,613.3 L218.5,602.7 L230,588.8 L240.6,587.3 L246.7,541.5 L250,571 L252.1,586 L256,596 L261.7,601.5 L263.1,593.5 L268.5,604 L274.2,603 L283.5,599.2 L290,605.4 L295.4,586.7 L299,601 L303.1,611.7 L309.8,615 L321.9,615" fill="none" stroke="#6c62c0" stroke-width="1" stroke-dasharray="1 1.3"/>
<text x="94.20" y="464.00" font-size="6.8" text-anchor="start" fill="#000" font-weight="normal"  style="">D</text>
<line x1="96.50" y1="468.00" x2="96.50" y2="483.00" stroke="#000" stroke-width="1.3" />
<path d="M94.10,481.50 L96.50,482.50 L98.90,481.50 L96.50,487.50 Z" fill="#000"/>
<line x1="100.40" y1="469.00" x2="118.00" y2="469.00" stroke="#000" stroke-width="1.3" />
<path d="M116.50,466.60 L117.50,469.00 L116.50,471.40 L122.50,469.00 Z" fill="#000"/>
<line x1="126.30" y1="469.00" x2="144.00" y2="469.00" stroke="#000" stroke-width="1.3" />
<path d="M142.50,466.60 L143.50,469.00 L142.50,471.40 L148.50,469.00 Z" fill="#000"/>
<line x1="245.70" y1="469.30" x2="287.90" y2="469.30" stroke="#000" stroke-width="1.3" />
<path d="M286.40,466.90 L287.40,469.30 L286.40,471.70 L292.40,469.30 Z" fill="#000"/>
<line x1="295.80" y1="469.30" x2="327.60" y2="469.30" stroke="#000" stroke-width="1.3" />
<path d="M326.10,466.90 L327.10,469.30 L326.10,471.70 L332.10,469.30 Z" fill="#000"/>
<text x="101.90" y="482.90" font-size="7.3" text-anchor="start" fill="#000" font-weight="normal"  style="">Bort</text>
<text x="101.90" y="492.00" font-size="7.3" text-anchor="start" fill="#000" font-weight="normal"  style="">Cy</text>
<text x="101.90" y="501.10" font-size="7.3" text-anchor="start" fill="#000" font-weight="normal"  style="">Dex</text>
<text x="128.80" y="481.90" font-size="7.3" text-anchor="start" fill="#000" font-weight="normal" textLength="35.00" lengthAdjust="spacingAndGlyphs"  style="">2xMel/auto</text>
<text x="246.20" y="481.60" font-size="7.3" text-anchor="start" fill="#000" font-weight="normal"  style="">Len</text>
<text x="246.20" y="490.80" font-size="7.3" text-anchor="start" fill="#000" font-weight="normal"  style="">Dex</text>
<text x="307.40" y="481.60" font-size="7.3" text-anchor="start" fill="#000" font-weight="normal"  style="">Bort</text>
<text x="307.40" y="490.80" font-size="7.3" text-anchor="start" fill="#000" font-weight="normal"  style="">Len</text>
<text x="307.40" y="500.00" font-size="7.3" text-anchor="start" fill="#000" font-weight="normal"  style="">Dex</text>
<text x="242.50" y="517.50" font-size="7.3" text-anchor="start" fill="#000" font-weight="normal"  style="">R1</text>
<line x1="246.90" y1="521.90" x2="246.90" y2="531.30" stroke="#000" stroke-width="1.3" />
<path d="M244.50,529.80 L246.90,530.80 L249.30,529.80 L246.90,535.80 Z" fill="#000"/>
<text x="293.10" y="547.70" font-size="7.3" text-anchor="start" fill="#000" font-weight="normal"  style="">R2</text>
<line x1="296.90" y1="551.70" x2="296.90" y2="561.70" stroke="#000" stroke-width="1.3" />
<path d="M294.50,560.20 L296.90,561.20 L299.30,560.20 L296.90,566.20 Z" fill="#000"/>
<defs>
<linearGradient id="bg" x1="0" y1="0" x2="1" y2="0">
<stop offset="0.0" stop-color="#f7e4b8"/>
<stop offset="0.023" stop-color="#f6e2b6"/>
<stop offset="0.193" stop-color="#f2da88"/>
<stop offset="0.326" stop-color="#f2d36c"/>
<stop offset="0.493" stop-color="#f1c83f"/>
<stop offset="0.585" stop-color="#e8bb38"/>
<stop offset="0.659" stop-color="#e1ad33"/>
<stop offset="0.748" stop-color="#d99e2c"/>
<stop offset="0.807" stop-color="#d2902a"/>
<stop offset="0.881" stop-color="#cb8525"/>
<stop offset="0.955" stop-color="#c57920"/>
<stop offset="1.0" stop-color="#c2731f"/>
</linearGradient>
</defs>
<rect x="51.7" y="653.5" width="270.6" height="91.7" fill="url(#bg)" stroke="#7b7f90" stroke-width="1"/>
<path d="M55,697.6 L60,697.0 C70,691.6 84,656 99.3,656 C112,656 116,690 125.3,697.6 C116,705 112,739.3 99.3,739.3 C84,739.3 70,703.6 60,698.2 Z" fill="#8b8989"/>
<path d="M88.4,697.6 C92,690 94,671 99.7,671 C108,671 114,690 125.3,697.6 C114,705 108,724.6 100.3,724.6 C94,724.6 92,705 88.4,697.6 Z" fill="#cc0b14"/>
<path d="M93.1,681 C95,677 97,675 100,675 C108,676 116,690 125.3,697.6 C116,694 108,688 100,687 C97,686.5 95,684 93.1,681 Z" fill="#bdc92a"/>
<path d="M93.7,693 C96,691.5 98,691.2 100,691.2 C110,692 118,696 125.3,697.6 C118,698 110,696 100,695.3 C98,695 96,694 93.7,693 Z" fill="#f2cf20"/>
<path d="M94.3,699 L125.3,697.6 C116,703 108,721.6 100.9,721.6 C96,721.6 94.5,708 94.3,699 Z" fill="#c94515"/>
<path d="M125.30,697.60 L128.38,697.44 L131.45,697.08 L134.53,696.58 L137.60,695.97 L140.68,695.25 L143.75,694.45 L146.82,693.57 L149.90,692.62 L152.97,691.62 L156.05,690.56 L159.12,689.46 L162.20,688.33 L165.28,687.17 L168.35,685.98 L171.43,684.78 L174.50,683.56 L177.57,682.34 L180.65,681.11 L183.72,679.89 L186.80,678.68 L189.88,677.48 L192.95,676.30 L196.03,675.15 L199.10,674.02 L202.18,672.92 L205.25,671.86 L208.33,670.84 L211.40,669.87 L214.48,668.95 L217.55,668.09 L220.62,667.28 L223.70,666.54 L226.78,665.87 L229.85,665.27 L232.93,664.75 L236.00,664.31 L239.08,663.97 L242.15,663.71 L245.23,663.55 L248.30,663.50 L249.17,663.89 L250.04,665.00 L250.91,666.69 L251.79,668.85 L252.66,671.37 L253.53,674.13 L254.40,677.00 L255.27,679.87 L256.14,682.63 L257.01,685.15 L257.89,687.31 L258.76,689.00 L259.63,690.11 L260.50,690.50 L260.50,699.80 L259.63,700.27 L258.76,701.57 L257.89,703.58 L257.01,706.14 L256.14,709.13 L255.27,712.39 L254.40,715.80 L253.53,719.21 L252.66,722.47 L251.79,725.46 L250.91,728.02 L250.04,730.03 L249.17,731.33 L248.30,731.80 L245.23,731.75 L242.15,731.59 L239.08,731.33 L236.00,730.98 L232.93,730.55 L229.85,730.03 L226.78,729.43 L223.70,728.75 L220.62,728.01 L217.55,727.20 L214.48,726.33 L211.40,725.41 L208.33,724.44 L205.25,723.41 L202.18,722.35 L199.10,721.25 L196.03,720.12 L192.95,718.96 L189.88,717.78 L186.80,716.57 L183.72,715.36 L180.65,714.13 L177.57,712.91 L174.50,711.68 L171.43,710.46 L168.35,709.25 L165.28,708.06 L162.20,706.90 L159.12,705.76 L156.05,704.66 L152.97,703.60 L149.90,702.59 L146.82,701.65 L143.75,700.76 L140.68,699.96 L137.60,699.24 L134.53,698.62 L131.45,698.12 L128.38,697.76 L125.30,697.60 Z" fill="#8b8989"/>
<path d="M125.30,697.60 L128.38,697.49 L131.45,697.24 L134.53,696.90 L137.60,696.48 L140.68,695.99 L143.75,695.44 L146.82,694.83 L149.90,694.18 L152.97,693.49 L156.05,692.77 L159.12,692.02 L162.20,691.24 L165.28,690.44 L168.35,689.63 L171.43,688.80 L174.50,687.97 L177.57,687.13 L180.65,686.29 L183.72,685.45 L186.80,684.62 L189.88,683.80 L192.95,682.99 L196.03,682.19 L199.10,681.42 L202.18,680.66 L205.25,679.94 L208.33,679.24 L211.40,678.57 L214.48,677.94 L217.55,677.35 L220.62,676.79 L223.70,676.29 L226.78,675.82 L229.85,675.41 L232.93,675.06 L236.00,674.76 L239.08,674.52 L242.15,674.34 L245.23,674.24 L248.30,674.20 L249.17,674.54 L250.04,675.50 L250.91,676.96 L251.79,678.84 L252.66,681.02 L253.53,683.41 L254.40,685.90 L255.27,688.39 L256.14,690.78 L257.01,692.96 L257.89,694.84 L258.76,696.30 L259.63,697.26 L260.50,697.60 L260.50,697.60 L259.63,697.95 L258.76,698.95 L257.89,700.47 L257.01,702.42 L256.14,704.68 L255.27,707.16 L254.40,709.75 L253.53,712.34 L252.66,714.82 L251.79,717.08 L250.91,719.03 L250.04,720.55 L249.17,721.55 L248.30,721.90 L245.23,721.86 L242.15,721.75 L239.08,721.57 L236.00,721.32 L232.93,721.01 L229.85,720.64 L226.78,720.21 L223.70,719.73 L220.62,719.21 L217.55,718.63 L214.48,718.02 L211.40,717.36 L208.33,716.67 L205.25,715.94 L202.18,715.19 L199.10,714.41 L196.03,713.60 L192.95,712.78 L189.88,711.94 L186.80,711.08 L183.72,710.22 L180.65,709.35 L177.57,708.48 L174.50,707.60 L171.43,706.74 L168.35,705.88 L165.28,705.03 L162.20,704.21 L159.12,703.40 L156.05,702.62 L152.97,701.86 L149.90,701.15 L146.82,700.47 L143.75,699.85 L140.68,699.27 L137.60,698.76 L134.53,698.32 L131.45,697.97 L128.38,697.72 L125.30,697.60 Z" fill="#cc0b14"/>
<path d="M125.30,697.60 L128.38,697.51 L131.45,697.30 L134.53,697.01 L137.60,696.65 L140.68,696.24 L143.75,695.77 L146.82,695.26 L149.90,694.71 L152.97,694.13 L156.05,693.51 L159.12,692.88 L162.20,692.22 L165.28,691.54 L168.35,690.85 L171.43,690.15 L174.50,689.45 L177.57,688.74 L180.65,688.03 L183.72,687.32 L186.80,686.62 L189.88,685.92 L192.95,685.23 L196.03,684.56 L199.10,683.91 L202.18,683.27 L205.25,682.65 L208.33,682.06 L211.40,681.50 L214.48,680.97 L217.55,680.46 L220.62,679.99 L223.70,679.56 L226.78,679.17 L229.85,678.83 L232.93,678.53 L236.00,678.27 L239.08,678.07 L242.15,677.92 L245.23,677.83 L248.30,677.80 L249.17,678.09 L250.04,678.90 L250.91,680.14 L251.79,681.73 L252.66,683.57 L253.53,685.59 L254.40,687.70 L255.27,689.81 L256.14,691.83 L257.01,693.67 L257.89,695.26 L258.76,696.50 L259.63,697.31 L260.50,697.60 L260.50,697.60 L259.63,697.49 L258.76,697.18 L257.89,696.70 L257.01,696.09 L256.14,695.38 L255.27,694.61 L254.40,693.80 L253.53,692.99 L252.66,692.22 L251.79,691.51 L250.91,690.90 L250.04,690.42 L249.17,690.11 L248.30,690.00 L245.23,690.01 L242.15,690.05 L239.08,690.10 L236.00,690.18 L232.93,690.28 L229.85,690.39 L226.78,690.53 L223.70,690.68 L220.62,690.84 L217.55,691.02 L214.48,691.21 L211.40,691.42 L208.33,691.64 L205.25,691.86 L202.18,692.10 L199.10,692.34 L196.03,692.60 L192.95,692.85 L189.88,693.12 L186.80,693.38 L183.72,693.65 L180.65,693.93 L177.57,694.20 L174.50,694.47 L171.43,694.74 L168.35,695.01 L165.28,695.27 L162.20,695.53 L159.12,695.79 L156.05,696.03 L152.97,696.27 L149.90,696.49 L146.82,696.70 L143.75,696.90 L140.68,697.08 L137.60,697.24 L134.53,697.37 L131.45,697.48 L128.38,697.56 L125.30,697.60 Z" fill="#bdc92a"/>
<path d="M125.30,697.60 L128.38,697.58 L131.45,697.54 L134.53,697.48 L137.60,697.40 L140.68,697.32 L143.75,697.22 L146.82,697.12 L149.90,697.00 L152.97,696.88 L156.05,696.75 L159.12,696.62 L162.20,696.49 L165.28,696.35 L168.35,696.20 L171.43,696.06 L174.50,695.91 L177.57,695.77 L180.65,695.62 L183.72,695.47 L186.80,695.33 L189.88,695.18 L192.95,695.04 L196.03,694.90 L199.10,694.76 L202.18,694.63 L205.25,694.51 L208.33,694.38 L211.40,694.27 L214.48,694.16 L217.55,694.05 L220.62,693.95 L223.70,693.87 L226.78,693.78 L229.85,693.71 L232.93,693.65 L236.00,693.60 L239.08,693.56 L242.15,693.53 L245.23,693.51 L248.30,693.50 L249.17,693.56 L250.04,693.73 L250.91,693.98 L251.79,694.31 L252.66,694.70 L253.53,695.11 L254.40,695.55 L255.27,695.99 L256.14,696.40 L257.01,696.79 L257.89,697.12 L258.76,697.37 L259.63,697.54 L260.50,697.60 L260.50,697.60 L259.63,697.88 L258.76,698.65 L257.89,699.83 L257.01,701.35 L256.14,703.11 L255.27,705.04 L254.40,707.05 L253.53,709.06 L252.66,710.99 L251.79,712.75 L250.91,714.27 L250.04,715.45 L249.17,716.22 L248.30,716.50 L245.23,716.47 L242.15,716.38 L239.08,716.24 L236.00,716.05 L232.93,715.81 L229.85,715.52 L226.78,715.19 L223.70,714.82 L220.62,714.40 L217.55,713.96 L214.48,713.48 L211.40,712.97 L208.33,712.43 L205.25,711.87 L202.18,711.28 L199.10,710.67 L196.03,710.04 L192.95,709.40 L189.88,708.75 L186.80,708.09 L183.72,707.41 L180.65,706.74 L177.57,706.06 L174.50,705.38 L171.43,704.71 L168.35,704.04 L165.28,703.38 L162.20,702.74 L159.12,702.11 L156.05,701.50 L152.97,700.92 L149.90,700.36 L146.82,699.84 L143.75,699.35 L140.68,698.90 L137.60,698.50 L134.53,698.16 L131.45,697.89 L128.38,697.69 L125.30,697.60 Z" fill="#f2cf20"/>
<path d="M244,683.3 L248.3,678.6 C252,682 256,692 260.5,697.6 C255,694 250,689 244,683.3 Z" fill="#8fbf8f"/>
<path d="M260.50,690.50 L261.70,690.45 L262.89,690.29 L264.09,690.04 L265.29,689.70 L266.48,689.28 L267.68,688.78 L268.88,688.22 L270.07,687.61 L271.27,686.94 L272.47,686.22 L273.66,685.47 L274.86,684.69 L276.06,683.89 L277.25,683.07 L278.45,682.25 L279.65,681.43 L280.84,680.61 L282.04,679.81 L283.24,679.03 L284.43,678.28 L285.63,677.56 L286.83,676.89 L288.02,676.28 L289.22,675.72 L290.42,675.22 L291.61,674.80 L292.81,674.46 L294.01,674.21 L295.20,674.05 L296.40,674.00 L296.96,674.05 L297.52,674.21 L298.08,674.47 L298.64,674.82 L299.20,675.24 L299.76,675.75 L300.32,676.32 L300.88,676.95 L301.44,677.63 L302.00,678.36 L302.56,679.12 L303.12,679.91 L303.68,680.73 L304.24,681.56 L304.80,682.40 L305.36,683.24 L305.92,684.07 L306.48,684.89 L307.04,685.68 L307.60,686.44 L308.16,687.17 L308.72,687.85 L309.28,688.48 L309.84,689.05 L310.40,689.56 L310.96,689.98 L311.52,690.33 L312.08,690.59 L312.64,690.75 L313.20,690.80 L315.30,691.30 L315.30,704.60 L313.20,705.00 L312.64,705.05 L312.08,705.21 L311.52,705.46 L310.96,705.79 L310.40,706.21 L309.84,706.70 L309.28,707.25 L308.72,707.86 L308.16,708.52 L307.60,709.23 L307.04,709.97 L306.48,710.74 L305.92,711.53 L305.36,712.34 L304.80,713.15 L304.24,713.96 L303.68,714.77 L303.12,715.56 L302.56,716.33 L302.00,717.07 L301.44,717.78 L300.88,718.44 L300.32,719.05 L299.76,719.60 L299.20,720.09 L298.64,720.51 L298.08,720.84 L297.52,721.09 L296.96,721.25 L296.40,721.30 L295.20,721.23 L294.01,721.03 L292.81,720.70 L291.61,720.26 L290.42,719.71 L289.22,719.06 L288.02,718.33 L286.83,717.53 L285.63,716.66 L284.43,715.73 L283.24,714.75 L282.04,713.73 L280.84,712.69 L279.65,711.62 L278.45,710.55 L277.25,709.48 L276.06,708.41 L274.86,707.37 L273.66,706.35 L272.47,705.37 L271.27,704.44 L270.07,703.57 L268.88,702.77 L267.68,702.04 L266.48,701.39 L265.29,700.84 L264.09,700.40 L262.89,700.07 L261.70,699.87 L260.50,699.80 Z" fill="#8b8989"/>
<path d="M260.50,697.60 L261.70,697.53 L262.89,697.32 L264.09,697.00 L265.29,696.55 L266.48,696.00 L267.68,695.35 L268.88,694.62 L270.07,693.81 L271.27,692.93 L272.47,692.00 L273.66,691.02 L274.86,690.00 L276.06,688.95 L277.25,687.88 L278.45,686.80 L279.65,685.72 L280.84,684.65 L282.04,683.60 L283.24,682.58 L284.43,681.60 L285.63,680.67 L286.83,679.79 L288.02,678.98 L289.22,678.25 L290.42,677.60 L291.61,677.05 L292.81,676.60 L294.01,676.28 L295.20,676.07 L296.40,676.00 L296.96,676.07 L297.52,676.28 L298.08,676.60 L298.64,677.05 L299.20,677.60 L299.76,678.25 L300.32,678.98 L300.88,679.79 L301.44,680.67 L302.00,681.60 L302.56,682.58 L303.12,683.60 L303.68,684.65 L304.24,685.72 L304.80,686.80 L305.36,687.88 L305.92,688.95 L306.48,690.00 L307.04,691.02 L307.60,692.00 L308.16,692.93 L308.72,693.81 L309.28,694.62 L309.84,695.35 L310.40,696.00 L310.96,696.55 L311.52,697.00 L312.08,697.32 L312.64,697.53 L313.20,697.60 L313.20,697.60 L312.64,697.67 L312.08,697.87 L311.52,698.19 L310.96,698.62 L310.40,699.15 L309.84,699.77 L309.28,700.48 L308.72,701.27 L308.16,702.11 L307.60,703.02 L307.04,703.97 L306.48,704.96 L305.92,705.97 L305.36,707.01 L304.80,708.05 L304.24,709.09 L303.68,710.13 L303.12,711.14 L302.56,712.13 L302.00,713.08 L301.44,713.99 L300.88,714.83 L300.32,715.62 L299.76,716.33 L299.20,716.95 L298.64,717.48 L298.08,717.91 L297.52,718.23 L296.96,718.43 L296.40,718.50 L295.20,718.43 L294.01,718.23 L292.81,717.91 L291.61,717.48 L290.42,716.95 L289.22,716.33 L288.02,715.62 L286.83,714.83 L285.63,713.99 L284.43,713.08 L283.24,712.13 L282.04,711.14 L280.84,710.13 L279.65,709.09 L278.45,708.05 L277.25,707.01 L276.06,705.97 L274.86,704.96 L273.66,703.97 L272.47,703.02 L271.27,702.11 L270.07,701.27 L268.88,700.48 L267.68,699.77 L266.48,699.15 L265.29,698.62 L264.09,698.19 L262.89,697.87 L261.70,697.67 L260.50,697.60 Z" fill="#cc0b14"/>
<path d="M260.50,697.60 L261.70,697.54 L262.89,697.35 L264.09,697.06 L265.29,696.66 L266.48,696.16 L267.68,695.58 L268.88,694.92 L270.07,694.20 L271.27,693.41 L272.47,692.57 L273.66,691.69 L274.86,690.77 L276.06,689.83 L277.25,688.87 L278.45,687.90 L279.65,686.93 L280.84,685.97 L282.04,685.03 L283.24,684.11 L284.43,683.23 L285.63,682.39 L286.83,681.60 L288.02,680.88 L289.22,680.22 L290.42,679.64 L291.61,679.14 L292.81,678.74 L294.01,678.45 L295.20,678.26 L296.40,678.20 L296.96,678.26 L297.52,678.45 L298.08,678.74 L298.64,679.14 L299.20,679.64 L299.76,680.22 L300.32,680.88 L300.88,681.60 L301.44,682.39 L302.00,683.23 L302.56,684.11 L303.12,685.03 L303.68,685.97 L304.24,686.93 L304.80,687.90 L305.36,688.87 L305.92,689.83 L306.48,690.77 L307.04,691.69 L307.60,692.57 L308.16,693.41 L308.72,694.20 L309.28,694.92 L309.84,695.58 L310.40,696.16 L310.96,696.66 L311.52,697.06 L312.08,697.35 L312.64,697.54 L313.20,697.60 L313.20,697.60 L312.64,697.66 L312.08,697.83 L311.52,698.12 L310.96,698.49 L310.40,698.96 L309.84,699.51 L309.28,700.14 L308.72,700.83 L308.16,701.57 L307.60,702.37 L307.04,703.21 L306.48,704.08 L305.92,704.97 L305.36,705.88 L304.80,706.80 L304.24,707.72 L303.68,708.63 L303.12,709.52 L302.56,710.39 L302.00,711.23 L301.44,712.03 L300.88,712.77 L300.32,713.46 L299.76,714.09 L299.20,714.64 L298.64,715.11 L298.08,715.48 L297.52,715.77 L296.96,715.94 L296.40,716.00 L295.20,715.94 L294.01,715.77 L292.81,715.48 L291.61,715.11 L290.42,714.64 L289.22,714.09 L288.02,713.46 L286.83,712.77 L285.63,712.03 L284.43,711.23 L283.24,710.39 L282.04,709.52 L280.84,708.63 L279.65,707.72 L278.45,706.80 L277.25,705.88 L276.06,704.97 L274.86,704.08 L273.66,703.21 L272.47,702.37 L271.27,701.57 L270.07,700.83 L268.88,700.14 L267.68,699.51 L266.48,698.96 L265.29,698.49 L264.09,698.12 L262.89,697.83 L261.70,697.66 L260.50,697.60 Z" fill="#f2cf20"/>
<path d="M260.50,697.60 L261.70,697.54 L262.89,697.35 L264.09,697.06 L265.29,696.66 L266.48,696.16 L267.68,695.58 L268.88,694.92 L270.07,694.20 L271.27,693.41 L272.47,692.57 L273.66,691.69 L274.86,690.77 L276.06,689.83 L277.25,688.87 L278.45,687.90 L279.65,686.93 L280.84,685.97 L282.04,685.03 L283.24,684.11 L284.43,683.23 L285.63,682.39 L286.83,681.60 L288.02,680.88 L289.22,680.22 L290.42,679.64 L291.61,679.14 L292.81,678.74 L294.01,678.45 L295.20,678.26 L296.40,678.20 L296.96,678.26 L297.52,678.45 L298.08,678.74 L298.64,679.14 L299.20,679.64 L299.76,680.22 L300.32,680.88 L300.88,681.60 L301.44,682.39 L302.00,683.23 L302.56,684.11 L303.12,685.03 L303.68,685.97 L304.24,686.93 L304.80,687.90 L305.36,688.87 L305.92,689.83 L306.48,690.77 L307.04,691.69 L307.60,692.57 L308.16,693.41 L308.72,694.20 L309.28,694.92 L309.84,695.58 L310.40,696.16 L310.96,696.66 L311.52,697.06 L312.08,697.35 L312.64,697.54 L313.20,697.60 L313.20,697.60 L312.64,697.65 L312.08,697.79 L311.52,698.03 L310.96,698.34 L310.40,698.73 L309.84,699.18 L309.28,699.70 L308.72,700.27 L308.16,700.88 L307.60,701.54 L307.04,702.23 L306.48,702.95 L305.92,703.69 L305.36,704.44 L304.80,705.20 L304.24,705.96 L303.68,706.71 L303.12,707.45 L302.56,708.17 L302.00,708.86 L301.44,709.52 L300.88,710.13 L300.32,710.70 L299.76,711.22 L299.20,711.67 L298.64,712.06 L298.08,712.37 L297.52,712.61 L296.96,712.75 L296.40,712.80 L295.20,712.75 L294.01,712.61 L292.81,712.37 L291.61,712.06 L290.42,711.67 L289.22,711.22 L288.02,710.70 L286.83,710.13 L285.63,709.52 L284.43,708.86 L283.24,708.17 L282.04,707.45 L280.84,706.71 L279.65,705.96 L278.45,705.20 L277.25,704.44 L276.06,703.69 L274.86,702.95 L273.66,702.23 L272.47,701.54 L271.27,700.88 L270.07,700.27 L268.88,699.70 L267.68,699.18 L266.48,698.73 L265.29,698.34 L264.09,698.03 L262.89,697.79 L261.70,697.65 L260.50,697.60 Z" fill="#cc0b14"/>
<path d="M260.50,697.60 L261.70,697.54 L262.89,697.35 L264.09,697.06 L265.29,696.66 L266.48,696.16 L267.68,695.58 L268.88,694.92 L270.07,694.20 L271.27,693.41 L272.47,692.57 L273.66,691.69 L274.86,690.77 L276.06,689.83 L277.25,688.87 L278.45,687.90 L279.65,686.93 L280.84,685.97 L282.04,685.03 L283.24,684.11 L284.43,683.23 L285.63,682.39 L286.83,681.60 L288.02,680.88 L289.22,680.22 L290.42,679.64 L291.61,679.14 L292.81,678.74 L294.01,678.45 L295.20,678.26 L296.40,678.20 L296.96,678.26 L297.52,678.45 L298.08,678.74 L298.64,679.14 L299.20,679.64 L299.76,680.22 L300.32,680.88 L300.88,681.60 L301.44,682.39 L302.00,683.23 L302.56,684.11 L303.12,685.03 L303.68,685.97 L304.24,686.93 L304.80,687.90 L305.36,688.87 L305.92,689.83 L306.48,690.77 L307.04,691.69 L307.60,692.57 L308.16,693.41 L308.72,694.20 L309.28,694.92 L309.84,695.58 L310.40,696.16 L310.96,696.66 L311.52,697.06 L312.08,697.35 L312.64,697.54 L313.20,697.60 L313.20,697.60 L312.64,697.64 L312.08,697.78 L311.52,697.99 L310.96,698.27 L310.40,698.62 L309.84,699.04 L309.28,699.50 L308.72,700.02 L308.16,700.58 L307.60,701.18 L307.04,701.81 L306.48,702.46 L305.92,703.13 L305.36,703.81 L304.80,704.50 L304.24,705.19 L303.68,705.87 L303.12,706.54 L302.56,707.19 L302.00,707.82 L301.44,708.42 L300.88,708.98 L300.32,709.50 L299.76,709.96 L299.20,710.38 L298.64,710.73 L298.08,711.01 L297.52,711.22 L296.96,711.36 L296.40,711.40 L295.20,711.36 L294.01,711.22 L292.81,711.01 L291.61,710.73 L290.42,710.38 L289.22,709.96 L288.02,709.50 L286.83,708.98 L285.63,708.42 L284.43,707.82 L283.24,707.19 L282.04,706.54 L280.84,705.87 L279.65,705.19 L278.45,704.50 L277.25,703.81 L276.06,703.13 L274.86,702.46 L273.66,701.81 L272.47,701.18 L271.27,700.58 L270.07,700.02 L268.88,699.50 L267.68,699.04 L266.48,698.62 L265.29,698.27 L264.09,697.99 L262.89,697.78 L261.70,697.64 L260.50,697.60 Z" fill="#bdc92a"/>
<path d="M261.50,697.60 L262.53,697.56 L263.57,697.45 L264.60,697.28 L265.63,697.05 L266.67,696.76 L267.70,696.41 L268.73,696.03 L269.77,695.60 L270.80,695.14 L271.83,694.64 L272.87,694.13 L273.90,693.59 L274.93,693.03 L275.97,692.47 L277.00,691.90 L278.03,691.33 L279.07,690.77 L280.10,690.21 L281.13,689.67 L282.17,689.16 L283.20,688.66 L284.23,688.20 L285.27,687.77 L286.30,687.39 L287.33,687.04 L288.37,686.75 L289.40,686.52 L290.43,686.35 L291.47,686.24 L292.50,686.20 L293.19,686.24 L293.88,686.35 L294.57,686.52 L295.26,686.75 L295.95,687.04 L296.64,687.39 L297.33,687.77 L298.02,688.20 L298.71,688.66 L299.40,689.16 L300.09,689.67 L300.78,690.21 L301.47,690.77 L302.16,691.33 L302.85,691.90 L303.54,692.47 L304.23,693.03 L304.92,693.59 L305.61,694.13 L306.30,694.64 L306.99,695.14 L307.68,695.60 L308.37,696.03 L309.06,696.41 L309.75,696.76 L310.44,697.05 L311.13,697.28 L311.82,697.45 L312.51,697.56 L313.20,697.60 L313.20,697.60 L312.51,697.62 L311.82,697.67 L311.13,697.76 L310.44,697.87 L309.75,698.01 L309.06,698.18 L308.37,698.37 L307.68,698.58 L306.99,698.81 L306.30,699.05 L305.61,699.31 L304.92,699.57 L304.23,699.84 L303.54,700.12 L302.85,700.40 L302.16,700.68 L301.47,700.96 L300.78,701.23 L300.09,701.49 L299.40,701.75 L298.71,701.99 L298.02,702.22 L297.33,702.43 L296.64,702.62 L295.95,702.79 L295.26,702.93 L294.57,703.04 L293.88,703.13 L293.19,703.18 L292.50,703.20 L291.47,703.18 L290.43,703.13 L289.40,703.04 L288.37,702.93 L287.33,702.79 L286.30,702.62 L285.27,702.43 L284.23,702.22 L283.20,701.99 L282.17,701.75 L281.13,701.49 L280.10,701.23 L279.07,700.96 L278.03,700.68 L277.00,700.40 L275.97,700.12 L274.93,699.84 L273.90,699.57 L272.87,699.31 L271.83,699.05 L270.80,698.81 L269.77,698.58 L268.73,698.37 L267.70,698.18 L266.67,698.01 L265.63,697.87 L264.60,697.76 L263.57,697.67 L262.53,697.62 L261.50,697.60 Z" fill="#8fbf8f"/>
<line x1="99.30" y1="654.00" x2="99.30" y2="744.70" stroke="#fff" stroke-width="0.9" stroke-opacity="0.45"/>
<line x1="248.50" y1="654.00" x2="248.50" y2="744.70" stroke="#fff" stroke-width="0.9" stroke-opacity="0.45"/>
<line x1="296.50" y1="654.00" x2="296.50" y2="744.70" stroke="#fff" stroke-width="0.9" stroke-opacity="0.45"/>
<text x="66.00" y="695.00" font-size="5.5" text-anchor="start" fill="#1a1a1a" font-weight="bold" textLength="24.80" lengthAdjust="spacingAndGlyphs"  style="">del(13q14)</text>
<text x="66.60" y="700.90" font-size="5.5" text-anchor="start" fill="#1a1a1a" font-weight="bold" textLength="14.60" lengthAdjust="spacingAndGlyphs"  style="">+1q21</text>
<text x="66.60" y="706.60" font-size="5.5" text-anchor="start" fill="#1a1a1a" font-weight="bold" textLength="15.80" lengthAdjust="spacingAndGlyphs"  style="">+9q34</text>
<text x="95.00" y="709.60" font-size="5.4" text-anchor="start" fill="#2a1008" font-weight="bold" textLength="17.80" lengthAdjust="spacingAndGlyphs" font-style="italic" style="">WWTR1</text>
<text x="222.40" y="685.40" font-size="5.2" text-anchor="start" fill="#1a1a1a" font-weight="bold" textLength="11.00" lengthAdjust="spacingAndGlyphs" font-style="italic" style="">KIF9</text>
<text x="224.20" y="693.50" font-size="5.2" text-anchor="start" fill="#3a0505" font-weight="bold" textLength="18.80" lengthAdjust="spacingAndGlyphs" font-style="italic" style="">GPR113</text>
<text x="216.00" y="708.50" font-size="5.2" text-anchor="start" fill="#1a1a1a" font-weight="bold" textLength="19.30" lengthAdjust="spacingAndGlyphs" font-style="italic" style="">SLC9A1</text>
<text x="286.80" y="691.70" font-size="5.2" text-anchor="start" fill="#1a1a1a" font-weight="bold" textLength="13.00" lengthAdjust="spacingAndGlyphs" font-style="italic" style="">DDB1</text>
<text x="286.80" y="697.10" font-size="5.2" text-anchor="start" fill="#1a1a1a" font-weight="bold" textLength="13.00" lengthAdjust="spacingAndGlyphs" font-style="italic" style="">NINL,</text>
<text x="287.10" y="702.80" font-size="5.2" text-anchor="start" fill="#1a1a1a" font-weight="bold" textLength="18.60" lengthAdjust="spacingAndGlyphs" font-style="italic" style="">WSCD2</text>
<line x1="84.40" y1="751.40" x2="346.70" y2="751.40" stroke="#000" stroke-width="1.4" />
<line x1="95.30" y1="751.40" x2="95.30" y2="755.50" stroke="#000" stroke-width="1.1" />
<text x="95.30" y="767.40" font-size="8.2" text-anchor="middle" fill="#000" font-weight="normal"  style="">0</text>
<line x1="111.47" y1="751.40" x2="111.47" y2="753.60" stroke="#000" stroke-width="1.1" />
<line x1="127.64" y1="751.40" x2="127.64" y2="753.60" stroke="#000" stroke-width="1.1" />
<line x1="143.81" y1="751.40" x2="143.81" y2="753.60" stroke="#000" stroke-width="1.1" />
<line x1="159.98" y1="751.40" x2="159.98" y2="755.50" stroke="#000" stroke-width="1.1" />
<text x="159.98" y="767.40" font-size="8.2" text-anchor="middle" fill="#000" font-weight="normal"  style="">12</text>
<line x1="176.15" y1="751.40" x2="176.15" y2="753.60" stroke="#000" stroke-width="1.1" />
<line x1="192.32" y1="751.40" x2="192.32" y2="753.60" stroke="#000" stroke-width="1.1" />
<line x1="208.49" y1="751.40" x2="208.49" y2="753.60" stroke="#000" stroke-width="1.1" />
<line x1="224.66" y1="751.40" x2="224.66" y2="755.50" stroke="#000" stroke-width="1.1" />
<text x="224.66" y="767.40" font-size="8.2" text-anchor="middle" fill="#000" font-weight="normal"  style="">24</text>
<line x1="240.83" y1="751.40" x2="240.83" y2="753.60" stroke="#000" stroke-width="1.1" />
<line x1="257.00" y1="751.40" x2="257.00" y2="753.60" stroke="#000" stroke-width="1.1" />
<line x1="273.17" y1="751.40" x2="273.17" y2="753.60" stroke="#000" stroke-width="1.1" />
<line x1="289.34" y1="751.40" x2="289.34" y2="755.50" stroke="#000" stroke-width="1.1" />
<text x="289.34" y="767.40" font-size="8.2" text-anchor="middle" fill="#000" font-weight="normal"  style="">36</text>
<line x1="305.51" y1="751.40" x2="305.51" y2="753.60" stroke="#000" stroke-width="1.1" />
<line x1="321.68" y1="751.40" x2="321.68" y2="753.60" stroke="#000" stroke-width="1.1" />
<line x1="337.85" y1="751.40" x2="337.85" y2="753.60" stroke="#000" stroke-width="1.1" />
<text x="192.30" y="783.90" font-size="11.4" text-anchor="start" fill="#000" font-weight="normal" textLength="16.70" lengthAdjust="spacingAndGlyphs"  stroke="#000" stroke-width="0.22" style="">Time</text>
<text x="212.50" y="783.90" font-size="11.4" text-anchor="start" fill="#000" font-weight="normal" textLength="26.30" lengthAdjust="spacingAndGlyphs"  stroke="#000" stroke-width="0.22" style="">months</text>
<rect x="0" y="0" width="520" height="1.6" fill="#000"/>
<rect x="0" y="0" width="1.6" height="797" fill="#000"/>
<rect x="518" y="0" width="2" height="797" fill="#000"/>
<rect x="0" y="794.8" width="520" height="2.2" fill="#000"/>
</svg>
</body></html>
